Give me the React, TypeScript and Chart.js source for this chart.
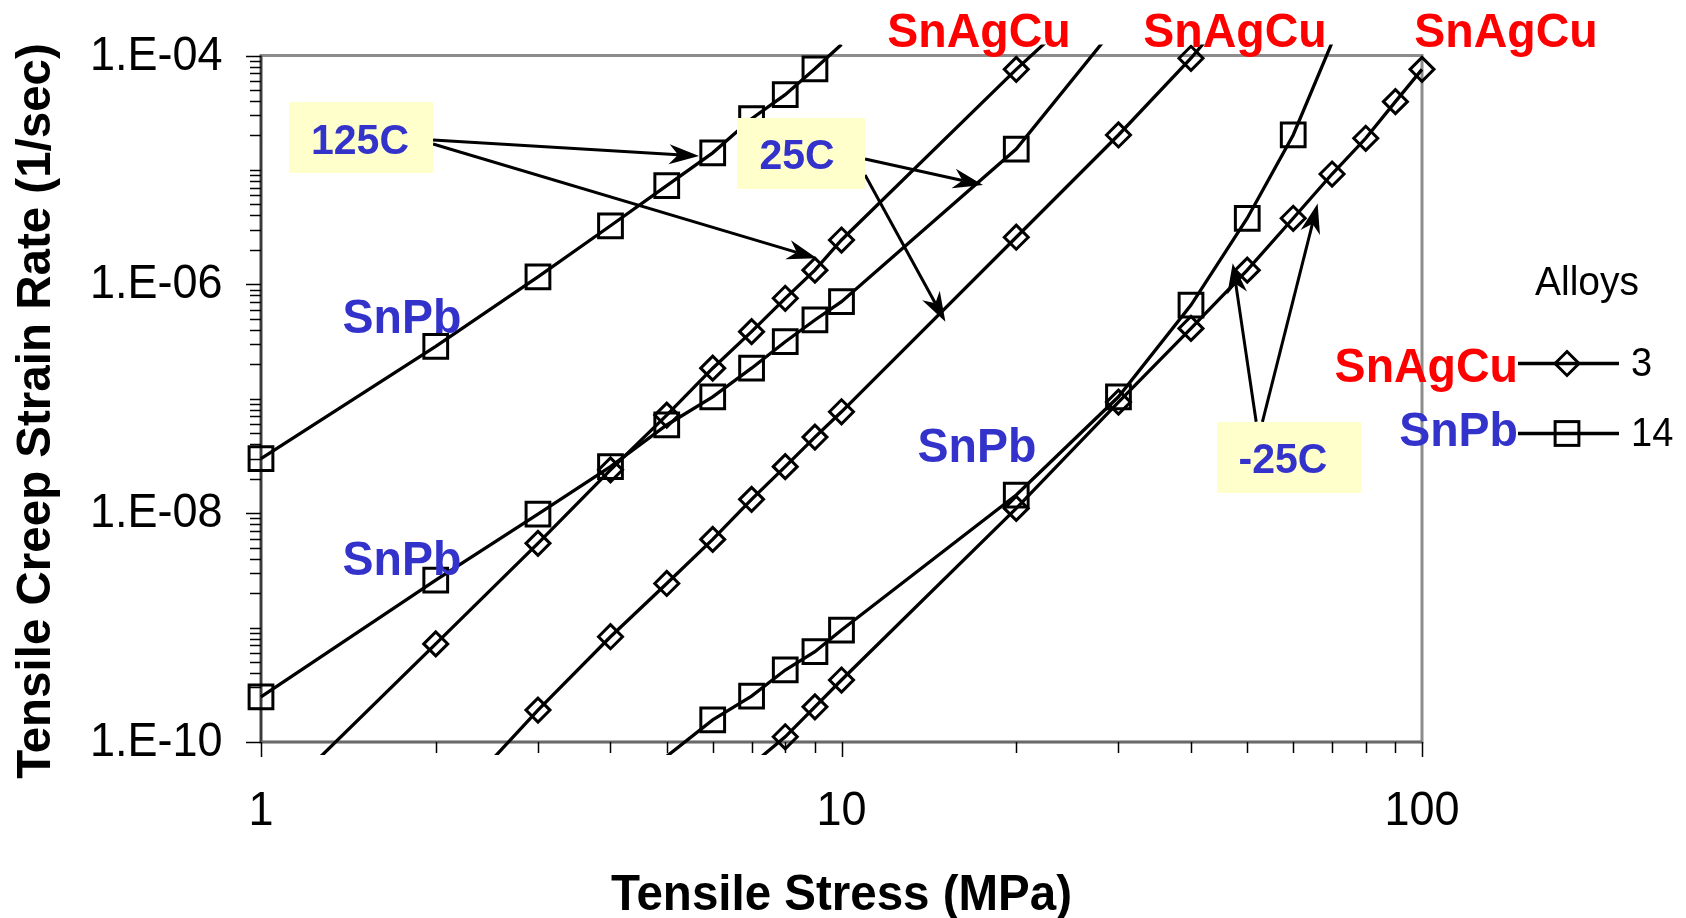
import React, { useEffect, useRef } from 'react';
import { Chart, registerables } from 'chart.js';

Chart.register(...registerables);

// ---------- data (stress in MPa, strain rate in 1/sec) ----------
const stress125SnPb = [1, 2, 3, 4, 5, 6, 7, 8, 9, 10];
const rate125SnPb = [3.0e-8, 2.87e-7, 1.16e-6, 3.25e-6, 7.3e-6, 1.41e-5, 2.8e-5, 4.55e-5, 7.65e-5, 1.25e-4];

const stress125SnAgCu = [1, 2, 3, 4, 5, 6, 7, 8, 9, 10, 20, 30];
const rate125SnAgCu = [2.3e-11, 7.2e-10, 5.45e-9, 2.39e-8, 7.2e-8, 1.85e-7, 3.86e-7, 7.55e-7, 1.33e-6, 2.44e-6, 7.57e-5, 5.0e-4];

const stress25SnPb = [1, 2, 3, 4, 5, 6, 7, 8, 9, 10, 20, 30];
const rate25SnPb = [2.48e-10, 2.6e-9, 9.8e-9, 2.55e-8, 5.9e-8, 1.04e-7, 1.85e-7, 3.15e-7, 4.88e-7, 7.05e-7, 1.52e-5, 1.93e-4];

const stress25SnAgCu = [2, 3, 4, 5, 6, 7, 8, 9, 10, 20, 30, 40, 50];
const rate25SnAgCu = [2.06e-11, 1.9e-10, 8.32e-10, 2.43e-9, 5.9e-9, 1.32e-8, 2.55e-8, 4.62e-8, 7.69e-8, 2.58e-6, 2.02e-5, 9.46e-5, 3.66e-4];

const stressM25SnPb = [5, 6, 7, 8, 9, 10, 20, 30, 40, 50, 60, 70];
const rateM25SnPb = [7.5e-11, 1.56e-10, 2.52e-10, 4.26e-10, 6.15e-10, 9.52e-10, 1.44e-8, 1.04e-7, 6.59e-7, 3.78e-6, 2.02e-5, 1.3e-4];

const stressM25SnAgCu = [7, 8, 9, 10, 20, 30, 40, 50, 60, 70, 80, 90, 100];
const rateM25SnAgCu = [6.3e-11, 1.11e-10, 2.03e-10, 3.48e-10, 1.1e-8, 9.35e-8, 4.12e-7, 1.33e-6, 3.78e-6, 9.21e-6, 1.89e-5, 3.95e-5, 7.57e-5];

// ---------- axes ----------
const xMin = 1, xMax = 100;
const yMin = 1e-10, yMax = 1e-4;
const xTickValues = [1, 10, 100];
const xTickLabels = ['1', '10', '100'];
const yTickValues = [1e-10, 1e-8, 1e-6, 1e-4];
const yTickLabels = ['1.E-10', '1.E-08', '1.E-06', '1.E-04'];
const xTitle = 'Tensile Stress (MPa)';
const yTitle = 'Tensile Creep Strain Rate (1/sec)';

// ---------- legend ----------
const legendTitle = 'Alloys';
const legendNames = ['SnAgCu', 'SnPb'];
const legendNumbers = ['3', '14'];

// ---------- annotation arrows (data space: [stress, rate]) ----------
const arrows125 = [
  [[1.979, 1.826e-5], [5.683, 1.323e-5]],
  [[1.979, 1.684e-5], [9.07, 1.688e-6]],
];
const arrows25 = [
  [[10.98, 1.245e-5], [17.53, 7.38e-6]],
  [[10.98, 9.02e-6], [15.1, 4.71e-7]],
];
const arrowsM25 = [
  [[51.8, 6.29e-8], [47.2, 1.526e-6]],
  [[53.1, 6.29e-8], [66.1, 5.1e-6]],
];

const FONT = '"Liberation Sans", Arial, Helvetica, sans-serif';
const RED = '#FF0000';
const BLUE = '#3333CC';
const BOX = '#FFFFCC';
const SY = 1.05; // slight vertical stretch of the original lettering

function pts(xs: number[], ys: number[]) {
  return xs.map((x, i) => ({ x, y: ys[i] }));
}

function radiusFor(r: number) {
  return (c: any) => {
    const v = c.raw && c.raw.y;
    if (v === undefined) return r;
    return v > yMax * 1.0001 || v < yMin * 0.9999 ? 0 : r;
  };
}

function ds(xs: number[], ys: number[], square: boolean) {
  const r = square ? 16.8 : 12;
  return {
    data: pts(xs, ys),
    showLine: true,
    borderColor: '#000',
    borderWidth: 3.3,
    tension: 0,
    pointStyle: square ? 'rect' : 'rectRot',
    pointRadius: radiusFor(r),
    pointBorderColor: '#000',
    pointBorderWidth: 3,
    pointBackgroundColor: 'rgba(0,0,0,0)',
    clip: { left: 20, top: 11, right: 20, bottom: 13 },
  };
}

function txt(ctx: CanvasRenderingContext2D, s: string, x: number, y: number) {
  ctx.save();
  ctx.translate(x, y);
  ctx.scale(1, SY);
  ctx.fillText(s, 0, 0);
  ctx.restore();
}

function drawArrow(ctx: CanvasRenderingContext2D, x1: number, y1: number, x2: number, y2: number) {
  const dx = x2 - x1, dy = y2 - y1;
  const L = Math.hypot(dx, dy);
  const ux = dx / L, uy = dy / L;
  const nx = -uy, ny = ux;
  const hl = 30, hw = 10, notch = 21;
  ctx.beginPath();
  ctx.moveTo(x1, y1);
  ctx.lineTo(x2 - ux * notch, y2 - uy * notch);
  ctx.stroke();
  ctx.beginPath();
  ctx.moveTo(x2, y2);
  ctx.lineTo(x2 - ux * hl + nx * hw, y2 - uy * hl + ny * hw);
  ctx.lineTo(x2 - ux * notch, y2 - uy * notch);
  ctx.lineTo(x2 - ux * hl - nx * hw, y2 - uy * hl - ny * hw);
  ctx.closePath();
  ctx.fill();
}

function drawSquare(ctx: CanvasRenderingContext2D, cx: number, cy: number) {
  const h = 16.8 * Math.SQRT1_2;
  ctx.strokeRect(cx - h, cy - h, 2 * h, 2 * h);
}
function drawDiamond(ctx: CanvasRenderingContext2D, cx: number, cy: number) {
  const r = 12;
  ctx.beginPath();
  ctx.moveTo(cx - r, cy);
  ctx.lineTo(cx, cy - r);
  ctx.lineTo(cx + r, cy);
  ctx.lineTo(cx, cy + r);
  ctx.closePath();
  ctx.stroke();
}

const decor = {
  id: 'decor',
  beforeDatasetsDraw(chart: any) {
    const { ctx, chartArea: a } = chart;
    const xs = chart.scales.x, ys = chart.scales.y;
    ctx.save();
    // plot frame
    ctx.strokeStyle = '#8c8c8c';
    ctx.lineWidth = 3;
    ctx.strokeRect(a.left, a.top, a.right - a.left, a.bottom - a.top);
    ctx.strokeStyle = '#3a3a3a';
    ctx.lineWidth = 2.5;
    ctx.beginPath();
    ctx.moveTo(a.left, a.top);
    ctx.lineTo(a.left, a.bottom);
    ctx.stroke();
    ctx.strokeStyle = '#6a6a6a';
    ctx.beginPath();
    ctx.moveTo(a.left, a.bottom);
    ctx.lineTo(a.right, a.bottom);
    ctx.stroke();

    // ticks
    ctx.strokeStyle = '#000';
    ctx.lineWidth = 1.5;
    const yLo = Math.round(Math.log10(yMin)), yHi = Math.round(Math.log10(yMax));
    for (let d = yLo; d <= yHi; d++) {
      for (let m = 1; m <= 9; m++) {
        const v = m * Math.pow(10, d);
        if (v > yMax * 1.0001) break;
        const py = Math.round(ys.getPixelForValue(v)) + 0.5;
        const major = m === 1 && yTickValues.some((t) => Math.abs(Math.log10(t) - d) < 1e-6);
        const len = major ? 15 : 11;
        ctx.beginPath();
        ctx.moveTo(a.left - len, py);
        ctx.lineTo(a.left, py);
        ctx.stroke();
      }
    }
    const xLo = Math.round(Math.log10(xMin)), xHi = Math.round(Math.log10(xMax));
    for (let d = xLo; d <= xHi; d++) {
      for (let m = 1; m <= 9; m++) {
        const v = m * Math.pow(10, d);
        if (v > xMax * 1.0001) break;
        const px = Math.round(xs.getPixelForValue(v)) + 0.5;
        const len = m === 1 ? 15 : 11;
        ctx.beginPath();
        ctx.moveTo(px, a.bottom);
        ctx.lineTo(px, a.bottom + len);
        ctx.stroke();
      }
    }

    // tick labels
    ctx.fillStyle = '#000';
    ctx.font = `45px ${FONT}`;
    ctx.textBaseline = 'alphabetic';
    ctx.textAlign = 'right';
    yTickValues.forEach((v, i) => {
      txt(ctx, yTickLabels[i], a.left - 38.5, ys.getPixelForValue(v) + 14);
    });
    ctx.textAlign = 'center';
    xTickValues.forEach((v, i) => {
      txt(ctx, xTickLabels[i], xs.getPixelForValue(v), a.bottom + 83);
    });

    // axis titles
    ctx.font = `bold 47.5px ${FONT}`;
    ctx.textAlign = 'center';
    txt(ctx, xTitle, (a.left + a.right) / 2, a.bottom + 168);
    ctx.save();
    ctx.translate(50, 411);
    ctx.rotate(-Math.PI / 2);
    ctx.fillText(yTitle, 0, 0);
    ctx.restore();
    ctx.restore();
  },
  afterDatasetsDraw(chart: any) {
    const { ctx } = chart;
    const xs = chart.scales.x, ys = chart.scales.y;
    ctx.save();
    // arrows
    ctx.strokeStyle = '#000';
    ctx.fillStyle = '#000';
    ctx.lineWidth = 3;
    [...arrows125, ...arrows25, ...arrowsM25].forEach(([p, q]) => {
      drawArrow(
        ctx,
        xs.getPixelForValue(p[0]), ys.getPixelForValue(p[1]),
        xs.getPixelForValue(q[0]), ys.getPixelForValue(q[1])
      );
    });

    // temperature boxes
    const boxes = [
      { t: '125C', x: 289, y: 102, w: 144, h: 71, tx: 360, ty: 154 },
      { t: '25C', x: 737, y: 118, w: 128, h: 71, tx: 797, ty: 169 },
      { t: '-25C', x: 1217, y: 422, w: 144, h: 71, tx: 1283, ty: 473 },
    ];
    boxes.forEach((b) => {
      ctx.fillStyle = BOX;
      ctx.fillRect(b.x, b.y, b.w, b.h);
      ctx.fillStyle = BLUE;
      ctx.font = `bold 41px ${FONT}`;
      ctx.textAlign = 'center';
      ctx.textBaseline = 'alphabetic';
      txt(ctx, b.t, b.tx, b.ty);
    });

    // alloy labels
    ctx.font = `bold 46.5px ${FONT}`;
    ctx.textAlign = 'center';
    ctx.fillStyle = BLUE;
    txt(ctx, 'SnPb', 402, 333);
    txt(ctx, 'SnPb', 402, 575);
    txt(ctx, 'SnPb', 977, 462);
    ctx.fillStyle = RED;
    txt(ctx, 'SnAgCu', 979, 47);
    txt(ctx, 'SnAgCu', 1235, 47);
    txt(ctx, 'SnAgCu', 1506, 47);

    // legend
    ctx.fillStyle = '#000';
    ctx.font = `39px ${FONT}`;
    ctx.textAlign = 'left';
    txt(ctx, legendTitle, 1535, 295);
    const rows = [363.5, 433.5];
    const baselines = [382, 446];
    rows.forEach((ry, i) => {
      ctx.font = `bold 46.5px ${FONT}`;
      ctx.textAlign = 'right';
      ctx.fillStyle = i === 0 ? RED : BLUE;
      txt(ctx, legendNames[i], 1518, baselines[i]);
      ctx.strokeStyle = '#000';
      ctx.lineWidth = 3.3;
      ctx.beginPath();
      ctx.moveTo(1518, ry);
      ctx.lineTo(1619, ry);
      ctx.stroke();
      ctx.lineWidth = 3;
      if (i === 0) drawDiamond(ctx, 1567, ry);
      else drawSquare(ctx, 1567, ry);
      ctx.fillStyle = '#000';
      ctx.font = `38px ${FONT}`;
      ctx.textAlign = 'left';
      txt(ctx, legendNumbers[i], 1631, ry + 12);
    });
    ctx.restore();
  },
};

export default function App() {
  const ref = useRef<HTMLCanvasElement>(null);
  useEffect(() => {
    document.body.style.margin = '0';
    const chart = new Chart(ref.current as HTMLCanvasElement, {
      type: 'scatter',
      data: {
        datasets: [
          ds(stress125SnPb, rate125SnPb, true),
          ds(stress125SnAgCu, rate125SnAgCu, false),
          ds(stress25SnPb, rate25SnPb, true),
          ds(stress25SnAgCu, rate25SnAgCu, false),
          ds(stressM25SnPb, rateM25SnPb, true),
          ds(stressM25SnAgCu, rateM25SnAgCu, false),
        ] as any,
      },
      options: {
        responsive: false,
        animation: false,
        devicePixelRatio: 1,
        events: [],
        layout: { padding: { left: 261, top: 55.5, right: 264, bottom: 176 } },
        plugins: { legend: { display: false }, tooltip: { enabled: false } },
        scales: {
          x: { type: 'logarithmic', min: xMin, max: xMax, display: false },
          y: { type: 'logarithmic', min: yMin, max: yMax, display: false },
        },
      } as any,
      plugins: [decor as any],
    });
    return () => chart.destroy();
  }, []);
  return (
    <div style={{ position: 'absolute', left: 0, top: 0, width: 1686, height: 918, background: '#fff' }}>
      <canvas ref={ref} width={1686} height={918} style={{ display: 'block', width: 1686, height: 918 }} />
    </div>
  );
}
